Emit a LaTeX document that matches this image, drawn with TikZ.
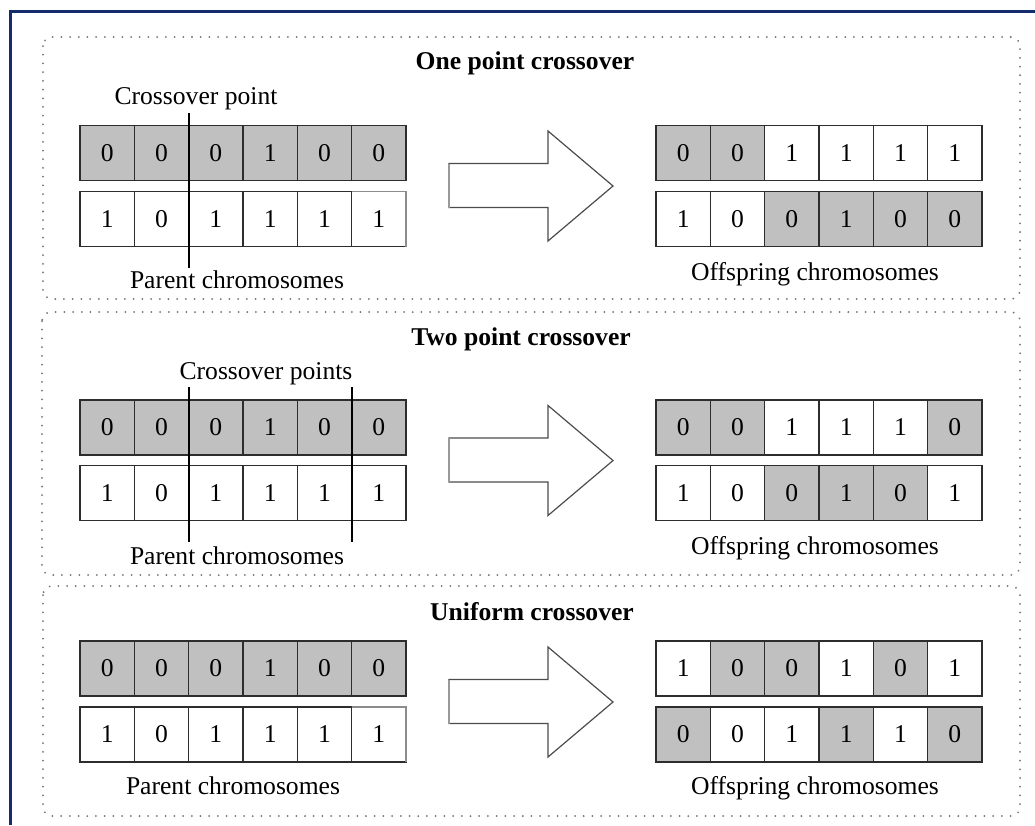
\documentclass[tikz,border=0pt]{standalone}
\usepackage{fontspec}
\setmainfont{Liberation Serif}
\definecolor{framenavy}{RGB}{18,44,108}
\definecolor{cg}{RGB}{192,192,192}
\definecolor{cw}{RGB}{255,255,255}
\definecolor{edgedark}{RGB}{45,45,45}
\newcommand\chromrow[4]{%
  \foreach \v/\f [count=\i] in {#4} {
    \node[cell, fill=\f] (#1\i) at ({#2+(\i-0.5)*54.33},{#3+27.5}) {\v};
  }%
}
\begin{document}
\begin{tikzpicture}[x=1pt,y=-1pt,
  cell/.style={draw=edgedark, line width=1.3pt, minimum width=54.33pt, minimum height=55pt,
    inner sep=0pt, outer sep=0pt, font=\fontsize{25.6}{30}\selectfont},
  lbl/.style={font=\fontsize{25.6}{30}\selectfont, anchor=base, inner sep=0pt},
  ttl/.style={font=\fontsize{25.6}{30}\selectfont\bfseries, anchor=base, inner sep=0pt},
  panel/.style={draw=black!55, line width=2pt, dash pattern=on 0.01pt off 8.7pt, line cap=round, rounded corners=9pt},
  bigarrow/.style={draw=black!70, line width=1.2pt, fill=white, line join=miter},
  cutline/.style={draw=black, line width=1.3pt},
  lightedge/.style={draw=black!45, line width=1.3pt},
  frame/.style={draw=framenavy, line width=3pt}
]
\useasboundingbox (0,0) rectangle (1035,825);
\fill[white] (0,0) rectangle (1035,825);

% outer frame
\coordinate (fTR) at (1035,11);
\coordinate (fTL) at (10,11);
\coordinate (fBL) at (10,825);
\draw[frame] (fTR) -- (fTL) -- (fBL);

% dotted panels
\draw[panel] (43,37) rectangle (1020,299);
\draw[panel] (42,312) rectangle (1020,575);
\draw[panel] (43,586) rectangle (1020,816);

% ---------- Panel 1: One point crossover ----------
\node[ttl] (t1) at (525,69) {One point crossover};
\chromrow{pa}{80}{125.5}{0/cg,0/cg,0/cg,1/cg,0/cg,0/cg}
\chromrow{pb}{80}{191.5}{1/cw,0/cw,1/cw,1/cw,1/cw,1/cw}
\draw[lightedge] (pb6.north west) -- (pb6.north east) -- (pb6.south east);
\chromrow{oa}{656}{125.5}{0/cg,0/cg,1/cw,1/cw,1/cw,1/cw}
\chromrow{ob}{656}{191.5}{1/cw,0/cw,0/cg,1/cg,0/cg,0/cg}
\node[lbl] (cp1) at (196,104) {Crossover point};
\node[lbl] (pc1) at (237,288) {Parent chromosomes};
\node[lbl] (oc1) at (815,280) {Offspring chromosomes};
\coordinate (c1top) at (189,113);
\coordinate (c1bot) at (189,268);
\draw[cutline] (c1top) -- (c1bot);
\draw[bigarrow] (449,163.5) -- (548,163.5) -- (548,131) -- (613,186) -- (548,241) -- (548,207.5) -- (449,207.5) -- cycle;
\draw[draw=black!40, line width=1.2pt] (449,163.5) -- (449,207.5);

% ---------- Panel 2: Two point crossover ----------
\node[ttl] (t2) at (521,345) {Two point crossover};
\chromrow{qa}{80}{400}{0/cg,0/cg,0/cg,1/cg,0/cg,0/cg}
\chromrow{qb}{80}{465.5}{1/cw,0/cw,1/cw,1/cw,1/cw,1/cw}
\chromrow{ra}{656}{400}{0/cg,0/cg,1/cw,1/cw,1/cw,0/cg}
\chromrow{rb}{656}{465.5}{1/cw,0/cw,0/cg,1/cg,0/cg,1/cw}
\node[lbl] (cp2) at (266,379) {Crossover points};
\node[lbl] (pc2) at (237,564) {Parent chromosomes};
\node[lbl] (oc2) at (815,554) {Offspring chromosomes};
\coordinate (c2atop) at (189,387);
\coordinate (c2abot) at (189,542);
\coordinate (c2btop) at (352,387);
\coordinate (c2bbot) at (352,542);
\draw[cutline] (c2atop) -- (c2abot);
\draw[cutline] (c2btop) -- (c2bbot);
\draw[bigarrow] (449,438) -- (548,438) -- (548,405.5) -- (613,460.5) -- (548,515.5) -- (548,482) -- (449,482) -- cycle;
\draw[draw=black!40, line width=1.2pt] (449,438) -- (449,482);

% ---------- Panel 3: Uniform crossover ----------
\node[ttl] (t3) at (532,620) {Uniform crossover};
\chromrow{sa}{80}{641}{0/cg,0/cg,0/cg,1/cg,0/cg,0/cg}
\chromrow{sb}{80}{707}{1/cw,0/cw,1/cw,1/cw,1/cw,1/cw}
\draw[lightedge] (sb6.north west) -- (sb6.north east) -- (sb6.south east);
\chromrow{ua}{656}{641}{1/cw,0/cg,0/cg,1/cw,0/cg,1/cw}
\chromrow{ub}{656}{707}{0/cg,0/cw,1/cw,1/cg,1/cw,0/cg}
\node[lbl] (pc3) at (233,794) {Parent chromosomes};
\node[lbl] (oc3) at (815,794) {Offspring chromosomes};
\draw[bigarrow] (449,679.5) -- (548,679.5) -- (548,647) -- (613,702) -- (548,757) -- (548,723.5) -- (449,723.5) -- cycle;
\draw[draw=black!40, line width=1.2pt] (449,679.5) -- (449,723.5);
\end{tikzpicture}
\end{document}
